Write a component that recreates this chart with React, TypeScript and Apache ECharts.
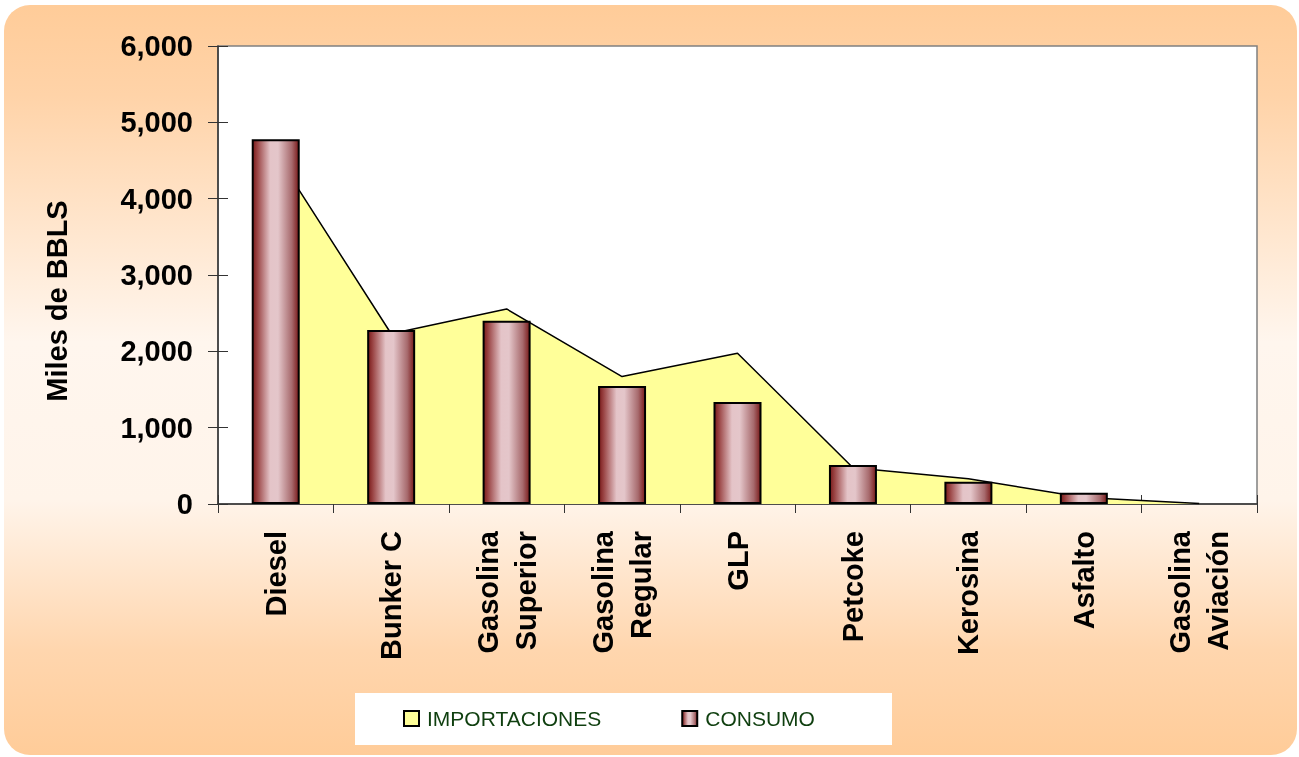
import React, { useEffect, useRef } from "react";
import * as echarts from "echarts";

const categories = [
  "Diesel",
  "Bunker C",
  "Gasolina\nSuperior",
  "Gasolina\nRegular",
  "GLP",
  "Petcoke",
  "Kerosina",
  "Asfalto",
  "Gasolina\nAviación",
];
const importaciones = [4590, 2230, 2555, 1670, 1975, 475, 330, 85, 5];
const consumo = [4780, 2280, 2400, 1545, 1335, 510, 290, 148, null];
const seriesNames = ["IMPORTACIONES", "CONSUMO"];
const yAxisName = "Miles de BBLS";
const yMin = 0;
const yMax = 6000;
const yStep = 1000;

const FONT = "Arial, 'Liberation Sans', sans-serif";
const AXIS_COLOR = "#333333";

export default function App() {
  const ref = useRef<HTMLDivElement>(null);

  useEffect(() => {
    if (!ref.current) return;
    const chart = echarts.init(ref.current, undefined, { renderer: "svg" });

    const barGradient = new echarts.graphic.LinearGradient(0, 0, 1, 0, [
      { offset: 0, color: "#7a1a1a" },
      { offset: 0.1, color: "#9a4444" },
      { offset: 0.38, color: "#e4c4c8" },
      { offset: 0.55, color: "#e4c6ca" },
      { offset: 0.85, color: "#a76a6d" },
      { offset: 1, color: "#7a1a1a" },
    ]);

    const bgGradient = new echarts.graphic.LinearGradient(0, 0, 0, 1, [
      { offset: 0, color: "#ffcc99" },
      { offset: 0.12, color: "#ffd3a8" },
      { offset: 0.45, color: "#fff6ee" },
      { offset: 0.66, color: "#fff4ea" },
      { offset: 0.86, color: "#ffd6ae" },
      { offset: 1, color: "#ffcc99" },
    ]);

    const fmt = (v: number) => v.toLocaleString("en-US");

    chart.setOption({
      animation: false,
      backgroundColor: "transparent",
      graphic: [
        {
          type: "rect",
          z: -10,
          silent: true,
          shape: { x: 4, y: 5, width: 1293, height: 750, r: 26 },
          style: { fill: bgGradient },
        },
        {
          type: "rect",
          z: 1,
          silent: true,
          shape: { x: 355, y: 693, width: 537, height: 52 },
          style: { fill: "#ffffff" },
        },
        {
          type: "text",
          x: 57,
          y: 301,
          rotation: Math.PI / 2,
          style: {
            text: yAxisName,
            font: `bold 29px ${FONT}`,
            fill: "#000000",
            align: "center",
            verticalAlign: "middle",
          },
        },
      ],
      legend: {
        left: 398,
        top: 703,
        itemWidth: 15,
        itemHeight: 15,
        itemGap: 80,
        selectedMode: false,
        textStyle: {
          fontFamily: FONT,
          fontSize: 21,
          color: "#0f3f0f",
          padding: [0, 0, 0, 3],
        },
        data: [
          {
            name: seriesNames[0],
            icon: "rect",
            itemStyle: { color: "#ffff99", borderColor: "#000", borderWidth: 2 },
          },
          {
            name: seriesNames[1],
            icon: "rect",
            itemStyle: { borderColor: "#000", borderWidth: 2 },
          },
        ],
      },
      grid: {
        left: 218,
        right: 42,
        top: 46,
        bottom: 253,
        show: true,
        backgroundColor: "#ffffff",
        borderColor: "#808080",
        borderWidth: 1.5,
      },
      xAxis: [
        {
          type: "category",
          data: categories,
          position: "bottom",
          boundaryGap: true,
          axisLine: { show: true, lineStyle: { color: AXIS_COLOR, width: 1.5 } },
          axisTick: { show: true, inside: false, length: 9, lineStyle: { color: AXIS_COLOR, width: 1 } },
          axisLabel: {
            interval: 0,
            rotate: 90,
            margin: 27,
            fontFamily: FONT,
            fontWeight: "bold",
            fontSize: 29,
            lineHeight: 38,
            color: "#000000",
          },
          splitLine: { show: false },
        },
        {
          type: "category",
          data: categories,
          position: "bottom",
          boundaryGap: true,
          axisLine: { show: false },
          axisTick: { show: true, inside: true, length: 9, lineStyle: { color: AXIS_COLOR, width: 1 } },
          axisLabel: { show: false },
          splitLine: { show: false },
        },
      ],
      yAxis: [
        {
          type: "value",
          min: yMin,
          max: yMax,
          interval: yStep,
          position: "left",
          axisLine: { show: true, lineStyle: { color: AXIS_COLOR, width: 1.5 } },
          axisTick: { show: true, inside: false, length: 10, lineStyle: { color: AXIS_COLOR, width: 1 } },
          axisLabel: {
            margin: 25,
            formatter: fmt,
            fontFamily: FONT,
            fontWeight: "bold",
            fontSize: 29,
            color: "#000000",
          },
          splitLine: { show: false },
        },
        {
          type: "value",
          min: yMin,
          max: yMax,
          interval: yStep,
          position: "left",
          axisLine: { show: false },
          axisTick: { show: true, inside: true, length: 10, lineStyle: { color: AXIS_COLOR, width: 1 } },
          axisLabel: { show: false },
          splitLine: { show: false },
        },
      ],
      series: [
        {
          name: seriesNames[0],
          type: "line",
          data: importaciones,
          xAxisIndex: 0,
          yAxisIndex: 0,
          symbol: "none",
          z: 1,
          lineStyle: { color: "#000000", width: 1.5 },
          itemStyle: { color: "#ffff99" },
          areaStyle: { color: "#ffff99", opacity: 1 },
        },
        {
          name: seriesNames[1],
          type: "bar",
          data: consumo,
          xAxisIndex: 0,
          yAxisIndex: 0,
          barWidth: 48,
          z: 3,
          itemStyle: { color: barGradient, borderColor: "#000000", borderWidth: 2 },
        },
      ],
    });

    return () => chart.dispose();
  }, []);

  return (
    <div
      ref={ref}
      style={{ position: "fixed", left: 0, top: 0, width: 1299, height: 757 }}
    />
  );
}
